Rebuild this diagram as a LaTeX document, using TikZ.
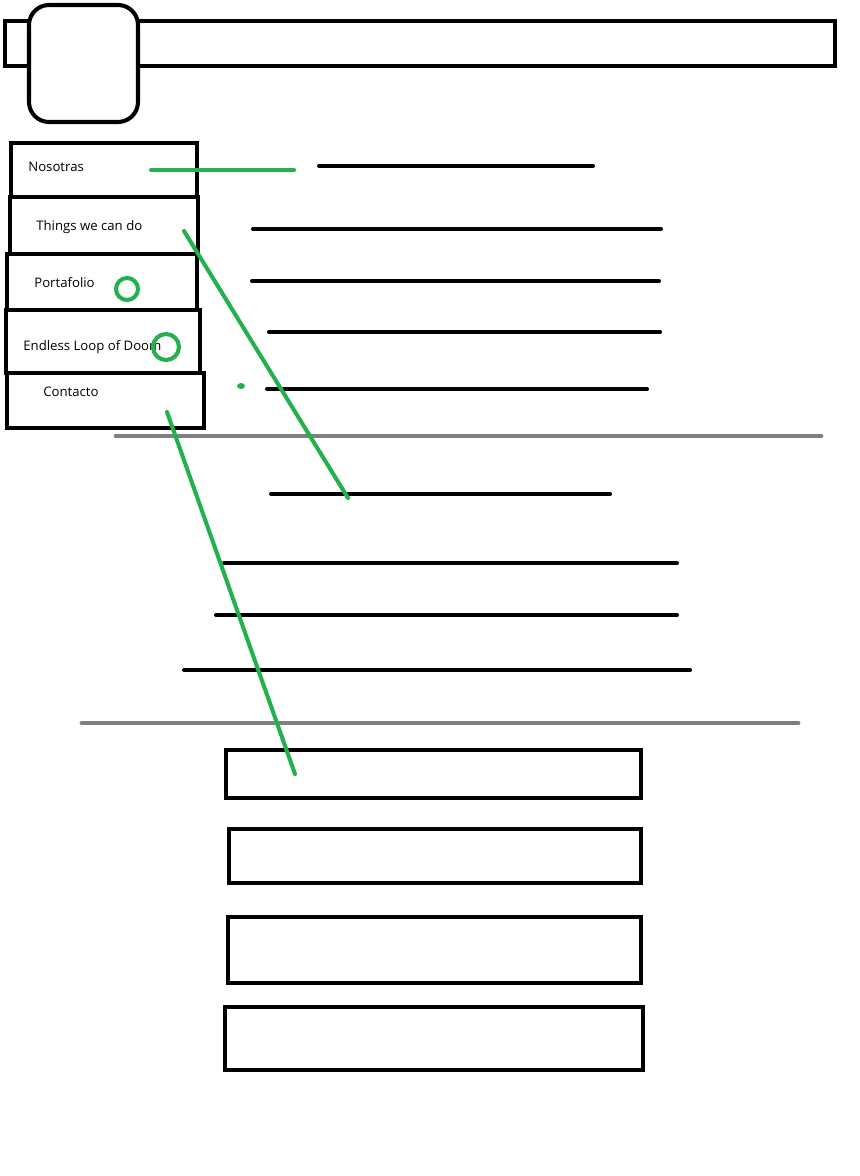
\documentclass[tikz,border=0pt]{standalone}
\usepackage{fontspec}
\setmainfont{Open Sans}
\definecolor{penGreen}{HTML}{22B14C}
\definecolor{penGrey}{HTML}{7F7F7F}
\begin{document}
\begin{tikzpicture}[x=0.02cm,y=-0.02cm,
    box/.style={draw=black,line width=2.3pt},
    bar/.style={black,line width=2.3pt,line cap=round},
    rule/.style={penGrey,line width=2.8pt,line cap=round},
    scribble/.style={penGreen,line width=2.3pt,line cap=round},
    label/.style={anchor=west,inner sep=0pt,font=\fontsize{7.5}{8}\selectfont}]
    \useasboundingbox (0,0) rectangle (859,1176);
    \draw [box] (5,21) rectangle (835,66);
    \draw [box,fill=white,rounded corners=0.4cm] (29,5) rectangle (138,122);
    \draw [box] (11,143) rectangle (197,197);
    \node [label] (nos) at (28,167) {Nosotras};
    \draw [box] (10,197) rectangle (198,254);
    \node [label] (things) at (36,227) {Things we can do};
    \draw [box] (7,254) rectangle (197,310);
    \node [label] (porta) at (34,283) {Portafolio};
    \draw [box] (6,310) rectangle (200,373);
    \node [label] (loop) at (23,347) {Endless Loop of Doom};
    \draw [box] (7,373) rectangle (204,428);
    \node [label] (contact) at (43,392) {Contacto};
    \draw [bar] (319,166) -- (593,166);
    \draw [bar] (253,229) -- (661,229);
    \draw [bar] (252,281) -- (659,281);
    \draw [bar] (269,332) -- (660,332);
    \draw [bar] (267,389) -- (647,389);
    \draw [rule] (116,436) -- (821,436);
    \draw [bar] (271,494) -- (610,494);
    \draw [bar] (224,563) -- (677,563);
    \draw [bar] (216,615) -- (677,615);
    \draw [bar] (184,670) -- (690,670);
    \draw [rule] (82,723) -- (798,723);
    \draw [box] (226,750) rectangle (641,798);
    \draw [box] (229,829) rectangle (641,883);
    \draw [box] (228,917) rectangle (641,983);
    \draw [box] (225,1007) rectangle (643,1070);
    \coordinate (nosEnd) at (294,170);
    \coordinate (thingsEnd) at (348,498);
    \coordinate (contactEnd) at (295,774);
    \draw [scribble] (151,170) -- (nosEnd);
    \draw [scribble] (184,231) -- (thingsEnd);
    \draw [scribble] (127,289) circle (11);
    \draw [scribble] (166,347) circle (13);
    \fill [penGreen] (241,386) ellipse (4 and 3);
    \draw [scribble] (167,412) -- (contactEnd);
\end{tikzpicture}
\end{document}
